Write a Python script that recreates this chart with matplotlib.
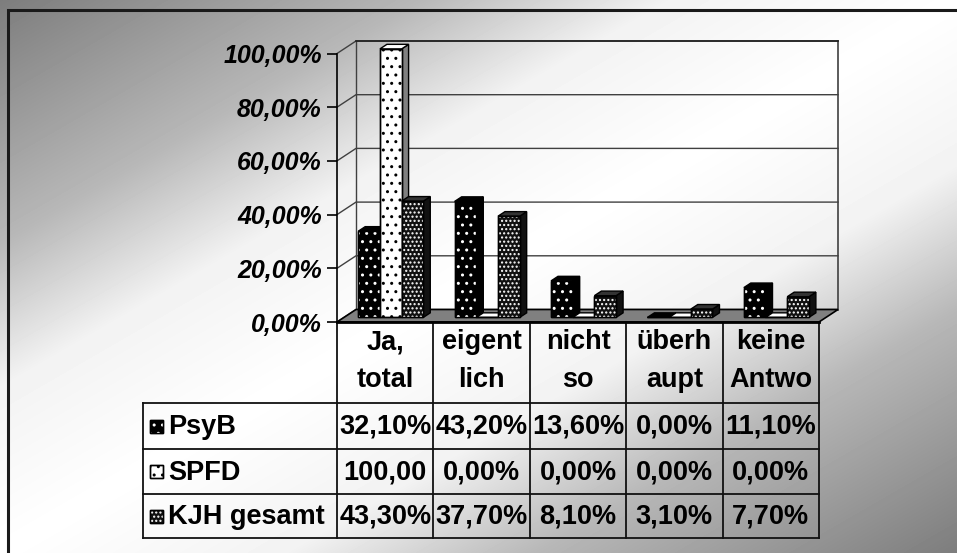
import numpy as np
import matplotlib
matplotlib.use("Agg")
import matplotlib.pyplot as plt
from matplotlib.patches import Polygon, Rectangle

# ---------------- data ----------------
categories = ["Ja,\ntotal", "eigent\nlich", "nicht\nso", "überh\naupt", "keine\nAntwo"]
series_names = ["PsyB", "SPFD", "KJH gesamt"]
psyb = [32.1, 43.2, 13.6, 0.0, 11.1]
spfd = [100.0, 0.0, 0.0, 0.0, 0.0]
kjh = [43.3, 37.7, 8.1, 3.1, 7.7]
yticks = [0, 20, 40, 60, 80, 100]
series_values = [psyb, spfd, kjh]

# ---------------- styles ----------------
FONT = "Liberation Sans"
W, H = 957, 553
PX_CAT = 96.4      # pixels per category
PX_PCT = 2.685     # pixels per percent
DDX = 19 / PX_CAT  # depth of plot (x, data units)
DDY = 12.5 / PX_PCT
BDX = 7 / PX_CAT   # depth of bars
BDY = 4.6 / PX_PCT
BASE = 1.7         # bar front-face base offset (depth)
BAR_W = 0.225
BAR_START = 0.22

styles = [
    dict(front="black", dots="white", hatch="..", side="black", top="black"),
    dict(front="white", dots="black", hatch="..", side="#808080", top="white"),
    dict(front="#111111", dots="white", hatch="....", side="#111111", top="#333333"),
]

fig = plt.figure(figsize=(W / 100, H / 100), dpi=100)

# background gradient + frame + table (pixel coordinates)
bg = fig.add_axes([0, 0, 1, 1])
u = (np.arange(W) + 0.5) / W
v = (np.arange(H) + 0.5) / H
d = np.abs(u[None, :] + v[:, None] - 1)
img = np.interp(d, [0, 0.3, 0.56, 1.0], [1.0, 0.95, 0.72, 0.49])
bg.imshow(img, cmap="gray", vmin=0, vmax=1, extent=[0, W, H, 0],
          aspect="auto", interpolation="bilinear")
bg.set_xlim(0, W)
bg.set_ylim(H, 0)
bg.axis("off")
bg.plot([8, 8, W + 5], [H + 5, 10, 10], color="#1a1a1a", lw=2.2, solid_joinstyle="miter")

# ---------------- chart axes ----------------
ax = fig.add_axes([337 / W, (H - 322) / H, (5 * PX_CAT + 19) / W, (100 + DDY) * PX_PCT / H])
ax.set_facecolor("none")
ax.set_xlim(0, 5 + DDX)
ax.set_ylim(0, 100 + DDY)
for s in ["top", "right", "bottom"]:
    ax.spines[s].set_visible(False)
ax.spines["left"].set_bounds(0, 100)
ax.spines["left"].set_linewidth(1.2)
ax.set_xticks([])
ax.set_yticks(yticks)
ax.set_yticklabels([f"{t:.2f}%".replace(".", ",") for t in yticks],
                   fontfamily=FONT, fontweight="bold", fontstyle="italic", fontsize=18)
ax.tick_params(axis="y", length=7, width=1.2, pad=4)

wall_col = "#404040"
# floor
ax.add_patch(Polygon([(0, 0), (5, 0), (5 + DDX, DDY), (DDX, DDY)], closed=True,
                     fc="#808080", ec="black", lw=1.2, clip_on=False, zorder=1))
ax.plot([0, 5], [0, 0], color="black", lw=2, clip_on=False, zorder=1.5)
# walls and gridlines
for t in yticks:
    ax.plot([0, DDX, 5 + DDX], [t, t + DDY, t + DDY], color=wall_col, lw=1.0,
            clip_on=False, zorder=0.5)
ax.plot([DDX, DDX], [DDY, 100 + DDY], color=wall_col, lw=1.0, clip_on=False, zorder=0.5)
ax.plot([5 + DDX, 5 + DDX], [DDY, 100 + DDY], color=wall_col, lw=1.2, clip_on=False, zorder=0.5)
ax.plot([DDX, 5 + DDX], [100 + DDY, 100 + DDY], color="#202020", lw=1.2, clip_on=False, zorder=0.5)

# bars
x_idx = np.arange(len(categories))
for j, vals in enumerate(series_values):
    st = styles[j]
    x0s = x_idx + BAR_START + j * BAR_W
    for x0, val in zip(x0s, vals):
        y0 = BASE
        y1 = BASE + val
        z = 2 + j * 0.1
        side = [(x0 + BAR_W, y0), (x0 + BAR_W + BDX, y0 + BDY),
                (x0 + BAR_W + BDX, y1 + BDY), (x0 + BAR_W, y1)]
        ax.add_patch(Polygon(side, closed=True, fc=st["side"], ec="black", lw=1.0, zorder=z))
        top = [(x0, y1), (x0 + BAR_W, y1), (x0 + BAR_W + BDX, y1 + BDY), (x0 + BDX, y1 + BDY)]
        ax.add_patch(Polygon(top, closed=True, fc=st["top"], ec="black", lw=1.0, zorder=z))
    ax.bar(x0s, vals, width=BAR_W, bottom=BASE, align="edge", color=st["front"],
           edgecolor="black", linewidth=1.0, zorder=2 + j * 0.1 + 0.05)
    ax.bar(x0s, vals, width=BAR_W, bottom=BASE, align="edge", facecolor="none",
           edgecolor=st["dots"], hatch=st["hatch"], linewidth=0, zorder=2 + j * 0.1 + 0.06)
    ax.bar(x0s, vals, width=BAR_W, bottom=BASE, align="edge", facecolor="none",
           edgecolor="black", linewidth=1.0, zorder=2 + j * 0.1 + 0.07)

# ---------------- data table ----------------
col_edges = [337 + i * PX_CAT for i in range(len(categories) + 1)]
row_edges = [403, 449, 494, 538]
tbl_left = 143
lc = "#111111"
for xe in col_edges:
    bg.plot([xe, xe], [322, row_edges[-1]], color=lc, lw=1.3)
for ye in row_edges:
    bg.plot([tbl_left, col_edges[-1]], [ye, ye], color=lc, lw=1.3)
bg.plot([tbl_left, tbl_left], [row_edges[0], row_edges[-1]], color=lc, lw=1.3)

tfont = dict(fontfamily=FONT, fontweight="bold", fontsize=19.5, color="black")
for i, cat in enumerate(categories):
    xc = (col_edges[i] + col_edges[i + 1]) / 2
    lines = cat.split("\n")
    for k, line in enumerate(lines):
        bg.text(xc, 342 + k * 38, line, ha="center", va="center", **tfont)

for r, (name, vals) in enumerate(zip(series_names, series_values)):
    yc = (row_edges[r] + row_edges[r + 1]) / 2
    st = styles[r]
    bg.add_patch(Rectangle((150, yc - 6.5), 13, 13, fc=st["front"], ec="black", lw=1.0))
    bg.add_patch(Rectangle((150, yc - 6.5), 13, 13, fc="none", ec=st["dots"],
                           hatch=st["hatch"], lw=0))
    bg.add_patch(Rectangle((150, yc - 6.5), 13, 13, fc="none", ec="black", lw=1.0))
    bg.text(168, yc + 1, name, ha="left", va="center", **tfont)
    for i, val in enumerate(vals):
        xc = (col_edges[i] + col_edges[i + 1]) / 2
        s = f"{val:.2f}%".replace(".", ",")[:6]
        bg.text(xc, yc + 1, s, ha="center", va="center", **tfont)

fig.savefig("out.png", dpi=100)
